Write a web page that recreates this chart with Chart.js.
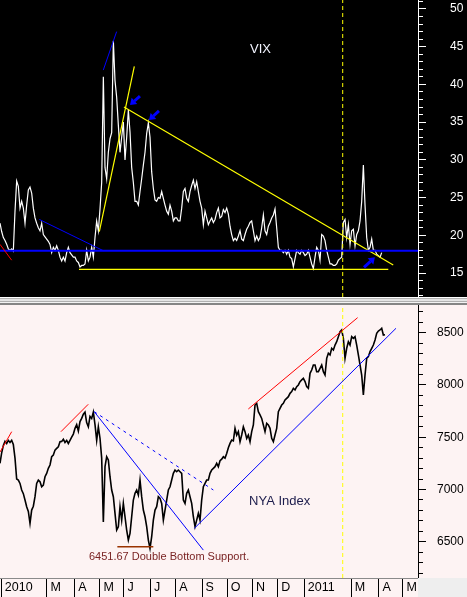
<!DOCTYPE html>
<html>
<head>
<meta charset="utf-8">
<script src="https://cdn.jsdelivr.net/npm/chart.js@4/dist/chart.umd.min.js"></script>
<style>
html,body{margin:0;padding:0;background:#fff;}
#wrap{position:relative;width:467px;height:597px;overflow:hidden;}
#topc{position:absolute;left:0;top:0;background:#000;}
#sep{position:absolute;left:0;top:297px;width:467px;height:8px;
 background:linear-gradient(to bottom,#ffffff 0px,#ffffff 1px,#b4b4b4 1px,#b4b4b4 2px,#e4e4e4 2px,#e4e4e4 4px,#b0b0b0 4px,#b0b0b0 5px,#f2f2f2 5px,#f2f2f2 6px,#858585 6px,#858585 8px);}
#botc{position:absolute;left:0;top:305px;background:#fdf3f3;}
#corner{position:absolute;left:418px;top:578px;width:49px;height:19px;background:#eeeeee;}
</style>
</head>
<body>
<div id="wrap">
<canvas id="topc" width="467" height="297"></canvas>
<div id="sep"></div>
<canvas id="botc" width="467" height="292"></canvas>
<div id="corner"></div>
</div>
<script>
// ---- time axis (trading days since 4 Jan 2010) ----
const monthDays   = [0, 38, 61, 82, 102, 124, 145, 167, 188, 209, 230, 252, 291, 314, 334];
const monthLabels = ['2010','M','A','M','J','J','A','S','O','N','D','2011','M','A','M'];
const X_MIN = -1.08, X_MAX = 346.5;
// readings taken every ~1.386 trading days
const SAMPLE_T0 = -1.08, SAMPLE_DT = 1.386;

// ---- VIX readings ----
const vixValues = [
21.6,20.5,19.7,19.3,18.8,18.2,18.0,18.2,17.9,23.2,27.2,26.5,23.6,24.5,23.6,21.6,24.0,26.0,26.4,25.6,
23.6,22.3,21.6,21.0,20.6,21.6,20.1,19.8,19.5,19.2,18.8,17.7,18.4,18.0,18.6,18.0,17.1,16.6,17.1,16.6,
17.7,18.4,17.7,17.4,17.1,17.1,16.6,16.4,15.8,16.0,16.0,16.2,18.0,16.6,17.1,18.4,17.1,19.7,21.9,20.6,
23.5,27.0,41.0,29.0,27.5,31.0,32.8,33.6,45.8,40.5,38.3,34.6,31.0,33.0,35.0,30.0,33.0,36.6,33.7,29.0,
27.0,24.5,24.5,24.0,25.8,27.5,29.3,31.0,33.5,34.9,33.0,28.4,26.2,24.7,24.5,25.0,24.9,25.8,24.9,24.0,
23.2,22.8,24.0,23.2,21.9,22.3,22.3,21.9,21.9,23.6,25.8,26.2,24.9,24.5,25.8,26.6,27.3,26.2,27.1,25.8,
24.5,23.6,21.4,23.2,22.3,21.4,21.9,22.3,21.7,22.1,23.0,23.6,22.3,22.5,23.4,23.0,23.6,22.8,21.2,20.1,
19.3,19.6,19.3,19.9,20.6,19.5,19.3,20.1,20.8,21.2,21.7,21.9,20.6,19.3,19.9,19.3,19.7,21.0,22.7,20.6,
20.1,21.2,21.7,22.3,22.7,23.5,21.0,18.4,18.0,18.0,17.7,18.0,17.5,18.0,17.1,16.9,15.8,16.9,18.0,17.7,
17.5,18.0,17.7,17.3,17.5,18.0,17.1,16.2,15.6,17.1,18.4,18.0,16.7,20.1,19.9,19.3,18.0,17.1,16.2,16.2,
16.0,16.0,16.2,16.7,16.9,17.1,21.7,22.1,19.7,21.4,18.8,20.6,20.8,18.6,20.1,20.6,21.9,24.5,29.3,24.0,
19.7,18.0,18.4,19.5,18.0,18.0,17.5,17.3,17.1,17.7
];

// ---- NYA Index readings ----
const nyaValues = [
7250,7350,7420,7460,7440,7470,7450,7470,7430,7300,7100,7090,7058,6995,6960,6900,6835,6790,6675,6803,
6840,6931,7058,7090,7074,7026,7042,7122,7154,7202,7234,7313,7329,7377,7393,7409,7457,7460,7480,7450,
7470,7440,7470,7500,7530,7585,7620,7560,7650,7680,7720,7740,7640,7600,7700,7680,7740,7620,7470,7600,
7490,7300,6690,7218,7313,7282,7122,6995,6931,6771,6612,6644,6835,6707,6867,6739,6612,6516,6580,6739,
6899,6963,6995,6947,7090,6931,6803,6739,6644,6516,6436,6548,6707,6803,6835,6931,6915,6867,6707,6803,
6899,6995,7026,7090,7154,7186,7170,7186,7170,7154,6899,6867,6963,6995,6931,6867,6739,6644,6707,6771,
6707,6899,7026,7058,7090,7090,7154,7186,7202,7218,7250,7218,7275,7290,7313,7300,7345,7400,7441,7473,
7465,7585,7520,7553,7457,7521,7600,7553,7489,7521,7457,7553,7617,7808,7824,7744,7713,7680,7617,7553,
7633,7617,7585,7489,7457,7521,7585,7744,7776,7808,7824,7856,7872,7888,7920,7936,7968,7952,7984,8000,
8032,8048,8063,8032,7984,7968,8111,8143,8191,8191,8127,8127,8159,8191,8127,8095,8255,8303,8287,8351,
8335,8382,8414,8462,8510,8526,8446,8255,8351,8414,8382,8462,8446,8462,8382,8287,8191,8095,7904,8095,
8255,8271,8319,8351,8382,8430,8494,8516,8526,8542,8478,8480
];

// ---- drawn trend lines (trading day, value) ----
const MARK_DAY = 283.9;                 // dashed vertical line (18 Feb 2011)
const VIX_MIN = 11.82, VIX_MAX = 51.19;
const NYA_MIN = 6153, NYA_MAX = 8765;
const vixSupport = 17.96;
const vixFloor = 15.48;
const vixLines = [
  {pts:[[-1.08,18.8],[8.6,16.7]], color:'#ff0000', w:1},
  {pts:[[31.6,22.1],[84.8,17.96]], color:'#0000ff', w:1},
  {pts:[[X_MIN,vixSupport],[X_MAX,vixSupport]], color:'#0000ff', w:2},
  {pts:[[64.6,vixFloor],[321.8,vixFloor]], color:'#ffff00', w:1.2},
  {pts:[[84.8,41.9],[95.9,47.0]], color:'#0000ff', w:1},
  {pts:[[81.5,20.5],[110.6,42.4]], color:'#ffff00', w:1.2},
  {pts:[[102.0,37.0],[325.9,16.06]], color:'#ffff00', w:1.2}
];
const vixArrows = [
  {tail:[115.3,38.46], head:[107.0,37.27]},
  {tail:[131.1,36.48], head:[122.8,35.28]},
  {tail:[301.6,15.75], head:[310.7,17.08]}
];
const supportLevel = 6451.67;
const nyaLines = [
  {pts:[[-1.08,7358],[8.65,7553]], color:'#ff0000', w:1},
  {pts:[[49.6,7553],[72.3,7815]], color:'#ff0000', w:1},
  {pts:[[77.3,7744],[168.0,6420]], color:'#0000ff', w:1},
  {pts:[[77.3,7744],[176.3,6995]], color:'#0000ff', w:1, dash:[3,4]},
  {pts:[[96.5,supportLevel],[126.4,supportLevel]], color:'#993300', w:1.5},
  {pts:[[160.5,6628],[328.2,8542]], color:'#0000ff', w:1},
  {pts:[[205.4,7770],[296.3,8644]], color:'#ff0000', w:1}
];

const FONT = "'Liberation Sans', Arial, Helvetica, sans-serif";
const sampleDay = i => SAMPLE_T0 + i * SAMPLE_DT;
const toPoints = arr => arr.map((v, i) => ({x: sampleDay(i), y: v}));
const lineSets = list => list.map(l => ({
  data: l.pts.map(p => ({x: p[0], y: p[1]})),
  borderColor: l.color, borderWidth: l.w, borderDash: l.dash || [],
  pointRadius: 0, tension: 0, order: 1
}));

function overlay(id, arrows, texts) {
  return {
    id: id,
    afterDatasetsDraw(chart) {
      const ctx = chart.ctx, xs = chart.scales.x, ys = chart.scales.y;
      ctx.save();
      arrows.forEach(a => {
        const tx = xs.getPixelForValue(a.tail[0]), ty = ys.getPixelForValue(a.tail[1]);
        const hx = xs.getPixelForValue(a.head[0]), hy = ys.getPixelForValue(a.head[1]);
        const ang = Math.atan2(hy - ty, hx - tx);
        const L = 6, W = 4.2;
        const bx = hx - L * Math.cos(ang), by = hy - L * Math.sin(ang);
        ctx.strokeStyle = '#0000ff'; ctx.fillStyle = '#0000ff';
        ctx.lineWidth = 3; ctx.lineCap = 'butt';
        ctx.beginPath(); ctx.moveTo(tx, ty); ctx.lineTo(bx, by); ctx.stroke();
        ctx.beginPath();
        ctx.moveTo(hx, hy);
        ctx.lineTo(bx + W * Math.sin(ang), by - W * Math.cos(ang));
        ctx.lineTo(bx - W * Math.sin(ang), by + W * Math.cos(ang));
        ctx.closePath(); ctx.fill();
      });
      texts.forEach(t => {
        ctx.font = t.font; ctx.fillStyle = t.color;
        ctx.textAlign = 'left'; ctx.textBaseline = 'middle';
        ctx.fillText(t.text, xs.getPixelForValue(t.at[0]), ys.getPixelForValue(t.at[1]));
      });
      ctx.restore();
    }
  };
}

function yAxis(min, max, step, major, color, pad) {
  return {
    position: 'right', min: min, max: max,
    afterFit(s) { s.width = 49; s.paddingTop = 0; s.paddingBottom = 0; },
    afterBuildTicks(s) {
      const t = [];
      for (let v = Math.ceil(min / step) * step; v <= max; v += step) t.push({value: v});
      s.ticks = t;
    },
    ticks: {
      autoSkip: false, color: color, padding: pad,
      font: {family: FONT, size: 12},
      callback: v => (Math.round(v) % major === 0 ? String(Math.round(v)) : '')
    },
    grid: {
      drawOnChartArea: false, drawTicks: true, tickLength: 8,
      tickColor: color, tickWidth: 1,
      tickBorderDash: c => (c.tick && Math.round(c.tick.value) % major === 0 ? [] : [4, 40])
    },
    border: {color: color, width: 1}
  };
}

const common = {
  responsive: false, animation: false, devicePixelRatio: 1,
  layout: {padding: 0},
  events: [],
  plugins: {legend: {display: false}, tooltip: {enabled: false}}
};

new Chart(document.getElementById('topc'), {
  type: 'line',
  data: {datasets: [
    ...lineSets(vixLines),
    {data: [{x: MARK_DAY, y: VIX_MIN}, {x: MARK_DAY, y: VIX_MAX}], borderColor: '#ffff00',
     borderWidth: 1, borderDash: [4, 3], pointRadius: 0, order: 2},
    {data: toPoints(vixValues), borderColor: '#ffffff', borderWidth: 1.2, pointRadius: 0,
     tension: 0, order: 10}
  ]},
  options: Object.assign({}, common, {
    scales: {
      x: {type: 'linear', min: X_MIN, max: X_MAX, display: false},
      y: yAxis(VIX_MIN, VIX_MAX, 1, 5, '#ffffff', 24)
    }
  }),
  plugins: [overlay('vixOverlay', vixArrows, [
    {text: 'VIX', at: [206.8, 44.7], color: '#f2f4ff', font: '13px ' + FONT}
  ])]
});

new Chart(document.getElementById('botc'), {
  type: 'line',
  data: {datasets: [
    ...lineSets(nyaLines),
    {data: [{x: MARK_DAY, y: NYA_MIN}, {x: MARK_DAY, y: NYA_MAX}], borderColor: '#ffff00',
     borderWidth: 1, borderDash: [4, 3], pointRadius: 0, order: 2},
    {data: toPoints(nyaValues), borderColor: '#000000', borderWidth: 1.6, pointRadius: 0,
     tension: 0, order: 10}
  ]},
  options: Object.assign({}, common, {
    scales: {
      x: {
        type: 'linear', min: X_MIN, max: X_MAX, position: 'bottom',
        afterFit(s) { s.height = 19; s.paddingLeft = 0; s.paddingRight = 0; },
        afterBuildTicks(s) { s.ticks = monthDays.map(d => ({value: d})); },
        ticks: {
          autoSkip: false, maxRotation: 0, minRotation: 0, align: 'start',
          padding: -16.5, color: '#000000', font: {family: FONT, size: 12.5},
          callback: (v, i) => ' ' + monthLabels[i]
        },
        grid: {drawOnChartArea: false, drawTicks: true, tickLength: 19, tickColor: '#000000', tickWidth: 1},
        border: {color: '#8a8a8a', width: 1}
      },
      y: yAxis(NYA_MIN, NYA_MAX, 100, 500, '#000000', 11)
    }
  }),
  plugins: [overlay('nyaOverlay', [], [
    {text: 'NYA Index', at: [206.0, 6883], color: '#1c1c4c', font: '13px ' + FONT},
    {text: '6451.67 Double Bottom Support.', at: [72.9, 6353], color: '#7a2424', font: '11px ' + FONT}
  ])]
});
</script>
</body>
</html>
